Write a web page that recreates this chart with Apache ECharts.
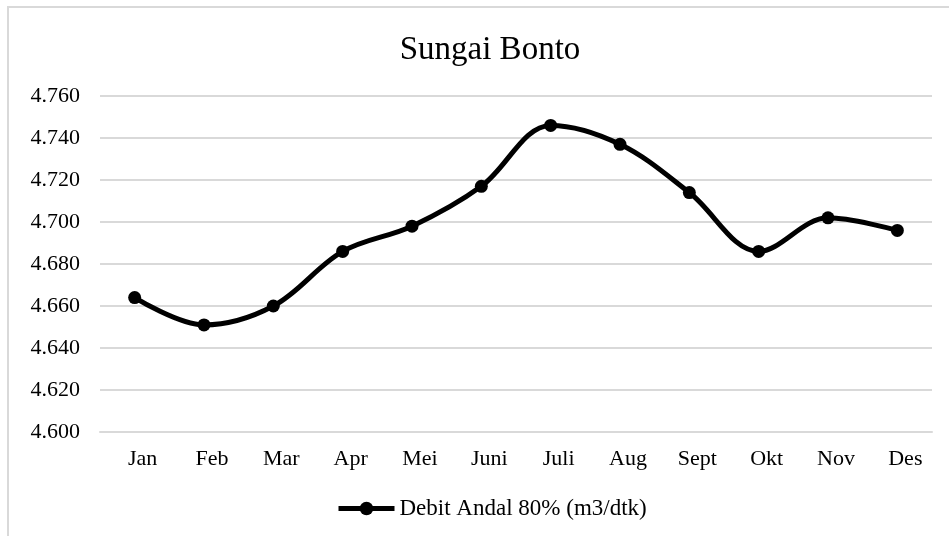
<!DOCTYPE html>
<html>
<head>
<meta charset="utf-8">
<script src="https://cdn.jsdelivr.net/npm/echarts@6/dist/echarts.min.js"></script>
<style>html,body{margin:0;padding:0;background:#fff;}#c{width:949px;height:536px;}</style>
</head>
<body>
<div id="c"></div>
<script>
var chartTitle = 'Sungai Bonto';
var seriesName = 'Debit Andal 80% (m3/dtk)';
var months = ['Jan','Feb','Mar','Apr','Mei','Juni','Juli','Aug','Sept','Okt','Nov','Des'];
var debit = [4.664, 4.651, 4.660, 4.686, 4.698, 4.717, 4.746, 4.737, 4.714, 4.686, 4.702, 4.696];
var yMin = 4.6, yMax = 4.76, yStep = 0.02;

var serif = '"Liberation Serif", "Times New Roman", serif';
var chart = echarts.init(document.getElementById('c'), null, {renderer: 'canvas'});
chart.setOption({
  animation: false,
  backgroundColor: '#fff',
  graphic: [{
    type: 'rect', shape: {x: 8, y: 7, width: 960, height: 560},
    style: {fill: 'none', stroke: '#d9d9d9', lineWidth: 2}, silent: true, z: -1
  }],
  title: {
    text: chartTitle, left: 485, top: 29, textAlign: 'center',
    textStyle: {fontFamily: serif, fontSize: 33, fontWeight: 'normal', color: '#000'}
  },
  grid: {left: 100, right: 17, top: 96, bottom: 104, containLabel: false},
  xAxis: {
    type: 'category', data: months, boundaryGap: true,
    axisLine: {lineStyle: {color: '#d9d9d9', width: 2}},
    axisTick: {show: false},
    axisLabel: {fontFamily: serif, fontSize: 22, color: '#000', margin: 16, padding: [0, 0, 0, 16]}
  },
  yAxis: {
    type: 'value', min: yMin, max: yMax, interval: yStep,
    axisLine: {show: false}, axisTick: {show: false},
    splitLine: {lineStyle: {color: '#d9d9d9', width: 2}},
    axisLabel: {fontFamily: serif, fontSize: 22, color: '#000', margin: 20,
      formatter: function (v) { return v.toFixed(3); }}
  },
  legend: {
    left: 331, top: 492, itemWidth: 56, itemHeight: 17,
    lineStyle: {width: 5, color: '#000'},
    itemStyle: {color: '#000'},
    textStyle: {fontFamily: serif, fontSize: 23, color: '#000'},
    data: [seriesName]
  },
  series: [{
    name: seriesName, type: 'line', data: debit, smooth: 0.35,
    symbol: 'circle', symbolSize: 13,
    lineStyle: {color: '#000', width: 5},
    itemStyle: {color: '#000'}
  }]
});
</script>
</body>
</html>
